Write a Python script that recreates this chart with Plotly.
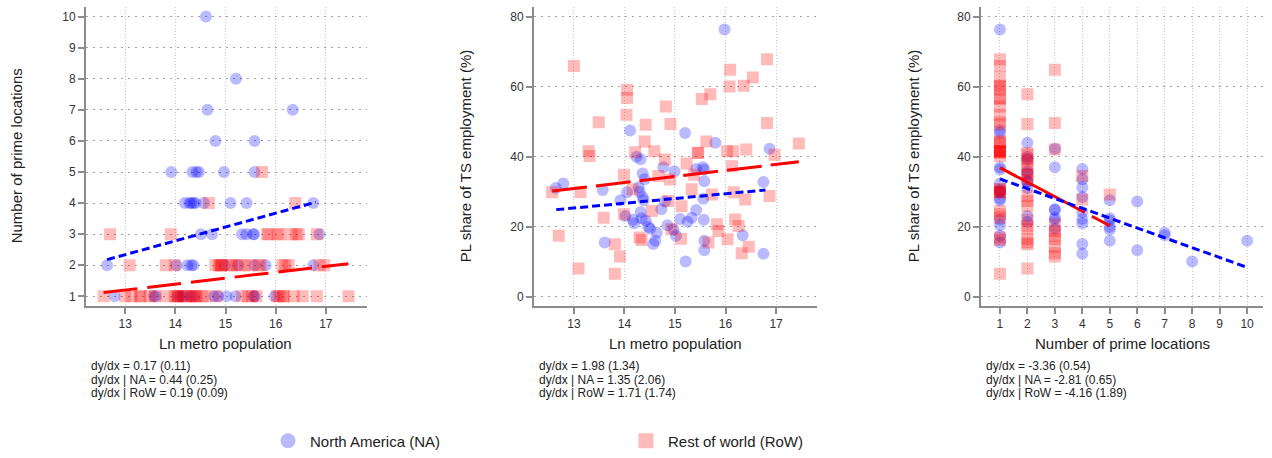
import plotly.graph_objects as go

# ---------------- data ----------------
# North America cities: ln metro population, number of prime locations, PL share of TS employment (%)
na_lnpop = [14.61, 15.21, 14.64, 16.34, 14.80, 15.58,
            13.92, 14.34, 14.42, 14.47, 14.97, 15.58,
            14.19, 14.28, 14.32, 14.36, 14.40, 14.57, 15.10, 15.42, 16.75,
            14.51, 14.73, 15.33, 15.42, 15.55, 15.57, 16.87,
            12.64, 14.02, 14.24, 14.32, 14.36, 14.99, 15.25, 15.58, 15.80, 16.75,
            12.79, 13.57, 13.61, 14.05, 14.11, 14.17, 14.30, 14.38, 14.85, 15.02,
            15.20, 15.58, 15.98, 15.56, 14.77]
na_nprime = [10, 8, 7, 7, 6, 6,
             5, 5, 5, 5, 5, 5,
             4, 4, 4, 4, 4, 4, 4, 4, 4,
             3, 3, 3, 3, 3, 3, 3,
             2, 2, 2, 2, 2, 2, 2, 2, 2, 2,
             1, 1, 1, 1, 1, 1, 1, 1, 1, 1,
             1, 1, 1, 1, 1]
na_share = [16.0, 10.1, 18.3, 17.6, 27.2, 13.3,
            27.6, 22.4, 21.8, 20.0, 19.2, 16.0,
            21.0, 31.3, 24.2, 28.5, 33.6, 15.1, 22.2, 36.5, 12.3,
            19.4, 25.0, 22.6, 24.8, 37.0, 22.0, 42.3,
            31.1, 23.1, 40.0, 39.3, 35.2, 35.9, 21.4, 33.0, 44.0, 32.8,
            32.4, 30.5, 15.5, 29.9, 47.5, 22.0, 30.0, 27.6, 20.4, 17.4,
            46.8, 36.4, 76.4, 28.0, 37.0]

# Rest of world cities
row_lnpop = [15.73,
             14.67, 16.39,
             12.70, 13.91, 15.83, 15.86, 16.04, 16.09, 16.41, 16.46, 16.82, 16.32,
             13.09, 13.81, 13.99, 14.80, 14.87, 14.90, 14.91, 14.93, 15.12, 15.13,
             15.23, 15.38, 15.46, 15.70, 16.13, 16.19, 16.26, 16.97, 16.87, 15.66,
             12.57, 13.00, 13.13, 13.29, 13.31, 13.49, 13.59, 13.81, 13.99, 14.04,
             14.05, 14.05, 14.16, 14.21, 14.30, 14.34, 14.40, 14.42, 14.54, 14.59,
             14.82, 15.33, 15.53, 15.62, 16.03, 16.08, 16.15, 16.16, 16.36, 16.54,
             16.82, 17.45, 15.45]
row_nprime = [5,
              4, 4,
              3, 3, 3, 3, 3, 3, 3, 3, 3, 3,
              2, 2, 2, 2, 2, 2, 2, 2, 2, 2,
              2, 2, 2, 2, 2, 2, 2, 2, 2, 2,
              1, 1, 1, 1, 1, 1, 1, 1, 1, 1,
              1, 1, 1, 1, 1, 1, 1, 1, 1, 1,
              1, 1, 1, 1, 1, 1, 1, 1, 1, 1,
              1, 1, 1]
row_share = [29.2,
             34.5, 27.8,
             17.4, 11.5, 20.7, 18.8, 16.4, 64.9, 42.1, 14.3, 49.7, 12.4,
             8.1, 15.0, 34.9, 39.2, 27.4, 33.5, 49.4, 19.3, 16.6, 25.9,
             38.1, 34.9, 41.1, 57.9, 37.3, 22.1, 20.2, 40.6, 28.8, 15.5,
             29.9, 66.0, 29.9, 41.6, 40.2, 49.9, 22.6, 6.6, 23.6, 52.0,
             59.2, 56.8, 30.7, 41.3, 16.9, 16.2, 44.4, 49.2, 24.5, 41.6,
             54.4, 30.7, 56.5, 44.4, 41.6, 60.1, 41.6, 29.9, 60.3, 62.7,
             67.9, 43.8, 41.2]

# fitted lines (endpoints)
fit1_na_x, fit1_na_y = [12.64, 16.80], [2.18, 4.03]
fit1_row_x, fit1_row_y = [12.57, 17.45], [1.12, 2.05]
fit2_na_x, fit2_na_y = [12.65, 16.79], [24.9, 30.5]
fit2_row_x, fit2_row_y = [12.57, 17.45], [30.2, 38.6]
fit3_na_x, fit3_na_y = [1, 10], [33.7, 8.4]
fit3_row_x, fit3_row_y = [1, 5], [36.9, 20.3]

notes1 = ["dy/dx = 0.17 (0.11)", "dy/dx | NA = 0.44 (0.25)", "dy/dx | RoW = 0.19 (0.09)"]
notes2 = ["dy/dx = 1.98 (1.34)", "dy/dx | NA = 1.35 (2.06)", "dy/dx | RoW = 1.71 (1.74)"]
notes3 = ["dy/dx = -3.36 (0.54)", "dy/dx | NA = -2.81 (0.65)", "dy/dx | RoW = -4.16 (1.89)"]

# ---------------- styling ----------------
W, H = 1272, 458
FONT = "Liberation Sans, Arial, sans-serif"
BLUE = "rgba(0,0,255,0.27)"
RED = "rgba(255,0,0,0.27)"


def fx(p):
    return p / W


def fy(p):
    return 1 - p / H


fig = go.Figure()

panels = [
    dict(xa="x", ya="y", xs=(na_lnpop, row_lnpop), ys=(na_nprime, row_nprime),
         fits=((fit1_row_x, fit1_row_y), (fit1_na_x, fit1_na_y)), reddash="34px,10px"),
    dict(xa="x2", ya="y2", xs=(na_lnpop, row_lnpop), ys=(na_share, row_share),
         fits=((fit2_row_x, fit2_row_y), (fit2_na_x, fit2_na_y)), reddash="35px,9px"),
    dict(xa="x3", ya="y3", xs=(na_nprime, row_nprime), ys=(na_share, row_share),
         fits=((fit3_row_x, fit3_row_y), (fit3_na_x, fit3_na_y)), reddash="96px,8px"),
]

for i, p in enumerate(panels):
    fig.add_trace(go.Scatter(x=p["xs"][0], y=p["ys"][0], mode="markers", xaxis=p["xa"], yaxis=p["ya"],
                             marker=dict(symbol="circle", size=12, color=BLUE, line=dict(width=0)),
                             name="North America (NA)", showlegend=False))
    fig.add_trace(go.Scatter(x=p["xs"][1], y=p["ys"][1], mode="markers", xaxis=p["xa"], yaxis=p["ya"],
                             marker=dict(symbol="square", size=12, color=RED, line=dict(width=0)),
                             name="Rest of world (RoW)", showlegend=False))
    (rx, ry), (bx, by) = p["fits"]
    fig.add_trace(go.Scatter(x=rx, y=ry, mode="lines", xaxis=p["xa"], yaxis=p["ya"],
                             line=dict(color="#ff0000", width=3, dash=p["reddash"]), showlegend=False))
    fig.add_trace(go.Scatter(x=bx, y=by, mode="lines", xaxis=p["xa"], yaxis=p["ya"],
                             line=dict(color="#0000ff", width=3, dash="8px,4px"), showlegend=False))

# legend entries (larger key symbols)
fig.add_trace(go.Scatter(x=[None], y=[None], mode="markers", xaxis="x", yaxis="y",
                         marker=dict(symbol="circle", size=15, color=BLUE, line=dict(width=0)),
                         name="North America (NA)", showlegend=True, legend="legend"))
fig.add_trace(go.Scatter(x=[None], y=[None], mode="markers", xaxis="x", yaxis="y",
                         marker=dict(symbol="square", size=15, color=RED, line=dict(width=0)),
                         name="Rest of world (RoW)", showlegend=True, legend="legend2"))

common = dict(showline=True, linecolor="#8c8c8c", linewidth=2, ticks="outside", ticklen=6,
              tickwidth=2, tickcolor="#8c8c8c", zeroline=False, showgrid=True,
              tickfont=dict(family=FONT, size=12, color="#333333"))
xgrid = dict(gridcolor="#c8c8c8", griddash="1px,2px", gridwidth=1)
ygrid = dict(gridcolor="#a0a0a0", griddash="2px,5px", gridwidth=1)

ydom = [fy(307), fy(7)]
fig.update_layout(
    width=W, height=H, margin=dict(l=0, r=0, t=0, b=0),
    paper_bgcolor="white", plot_bgcolor="white",
    font=dict(family=FONT, color="#222222"),
    xaxis=dict(domain=[fx(86), fx(367)], range=[12.22, 17.82], tickvals=[13, 14, 15, 16, 17],
               anchor="y", **common, **xgrid),
    yaxis=dict(domain=ydom, range=[0.70, 10.31], tickvals=list(range(1, 11)), anchor="x", **common, **ygrid),
    xaxis2=dict(domain=[fx(534), fx(817)], range=[12.21, 17.81], tickvals=[13, 14, 15, 16, 17],
                anchor="y2", **common, **xgrid),
    yaxis2=dict(domain=ydom, range=[-2.56, 82.85], tickvals=[0, 20, 40, 60, 80], anchor="x2", **common, **ygrid),
    xaxis3=dict(domain=[fx(981), fx(1263)], range=[0.31, 10.58], tickvals=list(range(1, 11)),
                anchor="y3", **common, **xgrid),
    yaxis3=dict(domain=ydom, range=[-2.56, 82.85], tickvals=[0, 20, 40, 60, 80], anchor="x3", **common, **ygrid),
    legend=dict(x=fx(266), y=fy(443), xanchor="left", yanchor="middle", orientation="h", itemwidth=34,
                font=dict(family=FONT, size=15, color="#222222"), bgcolor="rgba(0,0,0,0)"),
    legend2=dict(x=fx(624), y=fy(443), xanchor="left", yanchor="middle", orientation="h", itemwidth=34,
                 font=dict(family=FONT, size=15, color="#222222"), bgcolor="rgba(0,0,0,0)"),
)

annotations = []
# axis titles
xtitles = [("Ln metro population", 226), ("Ln metro population", 675), ("Number of prime locations", 1122)]
for t, cx in xtitles:
    annotations.append(dict(text=t, x=fx(cx), y=fy(345), xref="paper", yref="paper", showarrow=False,
                            xanchor="center", yanchor="middle", font=dict(family=FONT, size=15, color="#222222")))
ytitles = [("Number of prime locations", 16), ("PL share of TS employment (%)", 465),
           ("PL share of TS employment (%)", 913)]
for t, cx in ytitles:
    annotations.append(dict(text=t, x=fx(cx), y=fy(157), xref="paper", yref="paper", showarrow=False,
                            textangle=-90, xanchor="center", yanchor="middle",
                            font=dict(family=FONT, size=15, color="#222222")))
# dy/dx notes
for notes, left in [(notes1, 89), (notes2, 537), (notes3, 984)]:
    for k, t in enumerate(notes):
        annotations.append(dict(text=t, x=fx(left), y=fy(368 + 13.5 * k), xref="paper", yref="paper",
                                showarrow=False, xanchor="left", yanchor="middle",
                                font=dict(family=FONT, size=12, color="#222222")))
fig.update_layout(annotations=annotations)

fig.write_html("out.html")
